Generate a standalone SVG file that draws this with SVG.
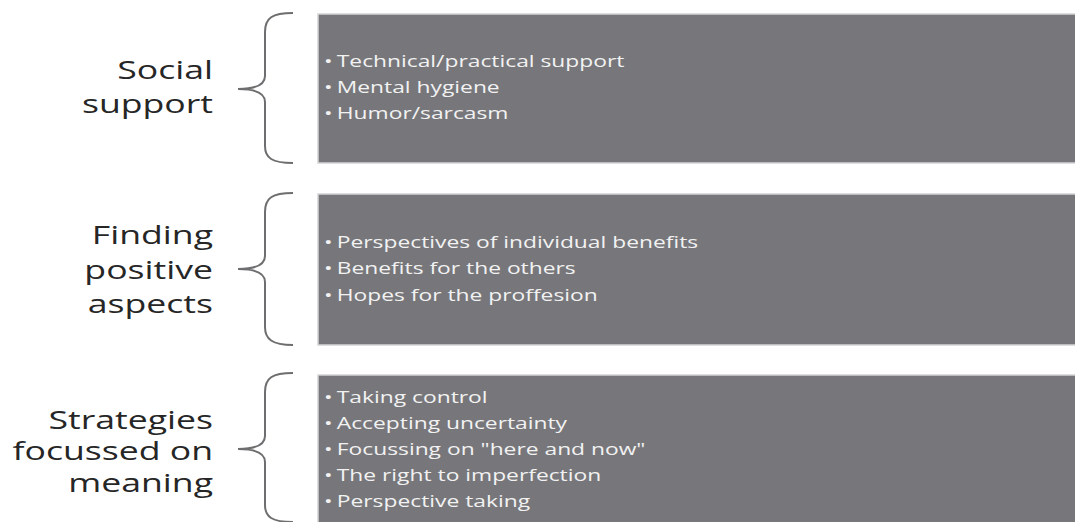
<svg xmlns="http://www.w3.org/2000/svg" width="1075" height="522" viewBox="0 0 1075 522">
<style>
.box{fill:#77777b;stroke:#d4d4d6;stroke-width:1.5}
.lbl{font-family:"Open Sans",sans-serif;font-size:26px;fill:#262626;text-anchor:end}
.item{font-family:"Open Sans",sans-serif;font-size:16.3px;fill:#f2f2f2}
.brace{fill:none;stroke:#6e6e70;stroke-width:2}
</style>
<rect width="1075" height="522" fill="#fff"/>
<g id="node-social">
<rect class="box" x="318" y="14" width="760" height="149"/>
<text class="lbl" transform="matrix(1.37 0 0 1 213 0)"><tspan x="0" y="79">Social</tspan><tspan x="0" y="113">support</tspan></text>
<text class="item" transform="matrix(1.4 0 0 1 324 0)"><tspan x="0" y="67">•</tspan><tspan dx="3">Technical/practical support</tspan><tspan x="0" y="93">•</tspan><tspan dx="3">Mental hygiene</tspan><tspan x="0" y="119">•</tspan><tspan dx="3">Humor/sarcasm</tspan></text>
</g>
<g id="node-positive">
<rect class="box" x="318" y="194" width="760" height="151"/>
<text class="lbl" transform="matrix(1.37 0 0 1 213 0)"><tspan x="0" y="244">Finding</tspan><tspan x="0" y="279">positive</tspan><tspan x="0" y="313">aspects</tspan></text>
<text class="item" transform="matrix(1.4 0 0 1 324 0)"><tspan x="0" y="248">•</tspan><tspan dx="3">Perspectives of individual benefits</tspan><tspan x="0" y="274.5">•</tspan><tspan dx="3">Benefits for the others</tspan><tspan x="0" y="301">•</tspan><tspan dx="3">Hopes for the proffesion</tspan></text>
</g>
<g id="node-meaning">
<rect class="box" x="318" y="375" width="760" height="160"/>
<text class="lbl" transform="matrix(1.37 0 0 1 213 0)"><tspan x="0" y="429">Strategies</tspan><tspan x="0" y="460">focussed on</tspan><tspan x="0" y="492">meaning</tspan></text>
<text class="item" transform="matrix(1.4 0 0 1 324 0)"><tspan x="0" y="403">•</tspan><tspan dx="3">Taking control</tspan><tspan x="0" y="429">•</tspan><tspan dx="3">Accepting uncertainty</tspan><tspan x="0" y="455">•</tspan><tspan dx="3">Focussing on "here and now"</tspan><tspan x="0" y="481">•</tspan><tspan dx="3">The right to imperfection</tspan><tspan x="0" y="507">•</tspan><tspan dx="3">Perspective taking</tspan></text>
</g>
<g id="connectors">
<path class="brace" d="M293 13 C272 13 265 18 265 32 L265 76 C265 84 256 89 238 89 C256 89 265 94 265 102 L265 146 C265 158 272 163 293 163"/>
<path class="brace" d="M293 193 C272 193 265 198 265 212 L265 256 C265 264 256 269 238 269 C256 269 265 274 265 282 L265 327 C265 339 272 345 293 345"/>
<path class="brace" d="M293 373 C272 373 265 378 265 392 L265 436 C265 444 256 449 238 449 C256 449 265 454 265 462 L265 505 C265 517 272 522 293 522"/>
</g>
</svg>
